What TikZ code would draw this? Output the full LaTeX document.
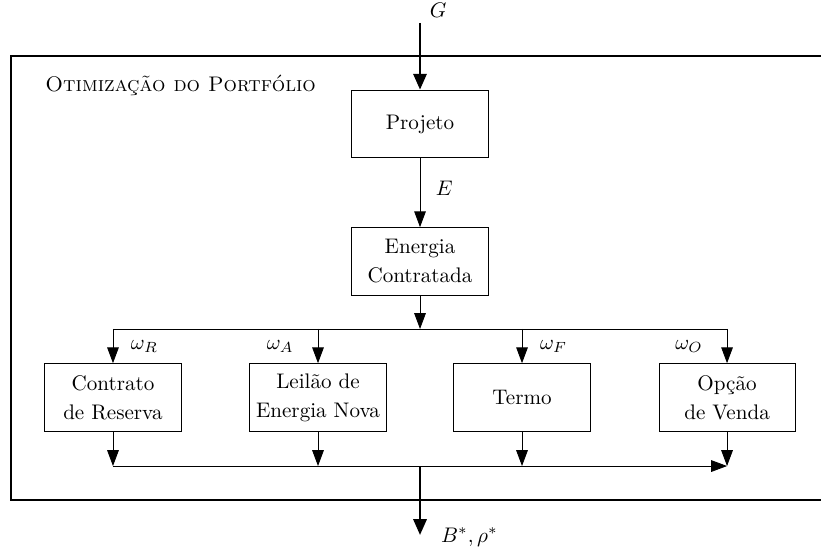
\documentclass[tikz,border=0pt]{standalone}
\usepackage{amsmath}
\usepackage{amssymb}
\usepackage{tikz}
\usetikzlibrary{arrows.meta,calc}

\tikzset{bloco/.style={draw, minimum width=2.27cm, minimum height=1.13cm, align=center, inner sep=2pt, font=\linespread{1.15}\selectfont},
seta/.style={-{Triangle[length=7.5pt,width=5.5pt]}},
setag/.style={line width=1.3pt,-{Triangle[length=7.5pt,width=6.2pt]}}}

\begin{document}
\begin{tikzpicture}
\useasboundingbox (0,0) rectangle (13.683,-9.233);
\draw[line width=1.3pt] (14,-0.933) -- (0.183,-0.933) -- (0.183,-8.333) -- (14,-8.333);
\node[anchor=base west, inner sep=0] (titulo) at (0.75,-1.517) {\textsc{Otimização do Portfólio}};
\node[bloco] (projeto) at (7,-2.067) {Projeto};
\node[bloco] (energia) at (7,-4.358) {Energia\\Contratada};
\node[bloco] (reserva) at (1.883,-6.625) {Contrato\\de Reserva};
\node[bloco] (leilao) at (5.3,-6.625) {Leilão de\\Energia Nova};
\node[bloco] (termo) at (8.7,-6.625) {Termo};
\node[bloco] (opcao) at (12.117,-6.625) {Opção\\de Venda};
\coordinate (g) at (7,-0.383);
\coordinate (topo) at (7,-5.483);
\coordinate (base) at (7,-7.767);
\coordinate (saida) at (7,-8.917);
\draw[setag] (g) node[above right, xshift=2pt, inner sep=2pt]{$G$} -- (projeto);
\draw[seta] (projeto) -- node[right=4pt, yshift=2pt]{$E$} (energia);
\draw[seta] (energia) -- (topo);
\draw (reserva |- topo) -- (opcao |- topo);
\draw[seta] (reserva |- topo) -- node[right=5pt]{$\omega_R$} (reserva);
\draw[seta] (leilao |- topo) -- node[left=8pt]{$\omega_A$} (leilao);
\draw[seta] (termo |- topo) -- node[right=5pt]{$\omega_F$} (termo);
\draw[seta] (opcao |- topo) -- node[left=8pt]{$\omega_O$} (opcao);
\foreach \b in {reserva,leilao,termo,opcao}
  \draw[seta] (\b) -- (\b |- base);
\draw[seta] (reserva |- base) -- (opcao |- base);
\draw[setag] (base) -- (saida) node[right=6pt, yshift=-1pt]{$B^*,\rho^*$};
\end{tikzpicture}
\end{document}
